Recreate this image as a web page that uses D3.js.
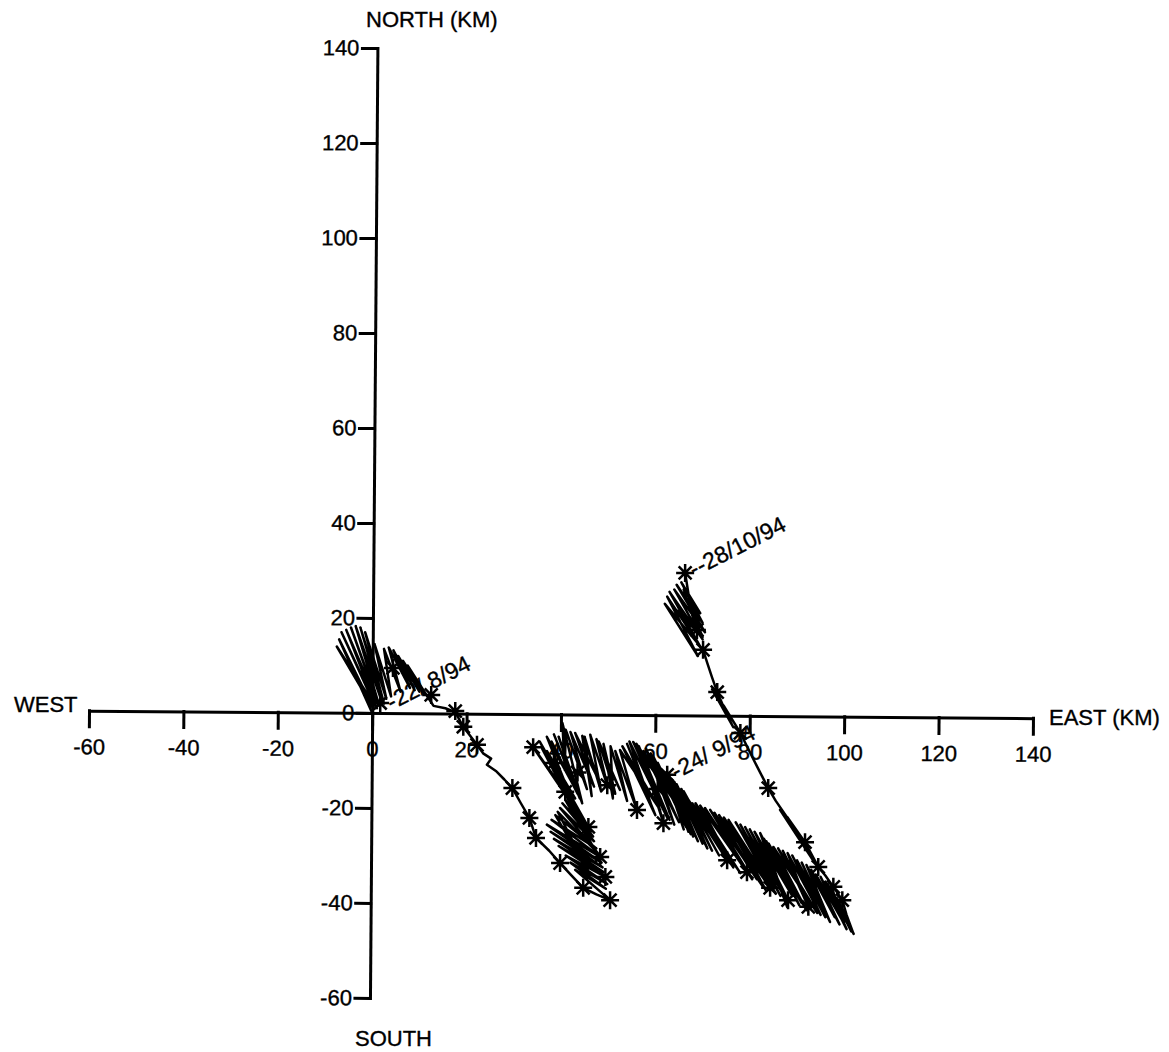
<!DOCTYPE html>
<html><head><meta charset="utf-8">
<script src="https://cdn.jsdelivr.net/npm/d3@7"></script>
<style>
body{margin:0;background:#fff}
text{font-family:"Liberation Sans",Arial,Helvetica,sans-serif}
</style>
</head><body>
<svg id="c" width="1169" height="1052"></svg>
<script>
// ---- axis ticks (km) ----
const axisTicks = [-60,-40,-20,0,20,40,60,80,100,120,140];

// ---- progressive vector track, [east km, north km] ----
// leg 1: start 22/8/94 at origin, tidal loops NW
const leg1 = [[0,0],[-7,15.5],[0.3,0.8],[-7.5,14],[0.6,1.5],[-6.5,17],[1,1],[-5.5,17.5],[1.2,2],[-4.5,18],[1.5,1.5],[-3.5,18.3],[2,2.5],[-2.5,18],[2.5,2],[-1.5,17],[3,3],[0.5,14.5],[4,3.5],[2.5,13.5],[6,4.5],[3.5,13.8],[8,5.3],[4.5,13.2],[9,4.8],[5.5,12],[10,4.5],[6.5,11],[11,4],[7.5,10],[12,3],[13,1.5],[15.5,1]];
// leg 2: drift south-east
const leg2 = [[17.6,0.2],[19.3,-2.9],[22.2,-6.7],[23.5,-8.5],[25.2,-9.6],[24.3,-10.9],[26.2,-12.2],[28,-14],[29.7,-15.8],[31.5,-19],[33.3,-22.1],[34.7,-26.3],[37.5,-29],[39.8,-31.6],[42.2,-34.2],[44.7,-36.8],[47.5,-38.2],[50.4,-39.4]];
// leg 3: middle cluster
const leg3 = [[43,-33],[49.5,-37],[42,-31.5],[49.8,-36],[41,-30],[49.4,-34.5],[39.5,-28],[49,-33.5],[38.5,-26.5],[48.8,-32.5],[37.8,-25],[48.6,-31.5],[37,-23.5],[48.3,-30.3],[38,-22.5],[47.5,-28.5],[38.8,-21.5],[46.2,-34.1],[39.3,-20.8],[47.8,-29.5],[39.8,-20],[47,-27],[40.3,-19],[46.8,-26],[40.9,-18.3],[48.3,-31],[41.2,-17.6],[46.3,-25],[41.5,-17],[45.8,-24],[39,-12],[44,-21],[37,-8],[43,-18],[36,-7.5],[41.5,-18],[34.1,-7.2],[40.9,-16.6],[35.5,-6],[42,-17.5],[37,-5],[42.5,-15],[38,-6],[43.5,-17],[38.5,-4.5],[44,-18],[39.5,-5],[44.5,-19],[40.3,-2.1],[40.8,-12],[41,-3.5],[45.5,-16],[42,-4],[47,-15.5],[43,-4.2],[48.3,-14.7],[44.5,-4.8],[46.5,-17.5],[45,-5],[48.5,-16.5],[46.2,-4.6],[49.8,-15.2],[47.5,-5.5],[52.5,-16.2],[48,-6],[51.5,-17],[49,-6.5],[51,-18],[50.5,-7],[54,-18.5],[51.5,-8],[56.1,-20.4]];
// leg 4: eastern cluster after 24/9/94
const leg4 = [[52.5,-7.8],[61,-20.4],[53,-7],[60,-21.5],[54,-6.5],[59,-19],[54.5,-6],[62.5,-22],[55.3,-6.1],[65.3,-20.4],[56,-6.5],[63,-22.5],[56.5,-7],[61.7,-23.2],[57.5,-8],[65,-23],[58,-7.5],[64,-23.5],[59,-8.5],[66.5,-24],[59.5,-9],[63,-21],[60.5,-10.5],[67.5,-25.5],[62,-12.5],[66,-24.5],[62.5,-13],[67,-25],[63,-13.5],[69,-27],[63.5,-14],[68,-26],[64,-14.5],[70,-27.5],[64.5,-15],[71,-28.5],[65.5,-16],[72,-29],[66,-16.5],[73.5,-30],[66.5,-17.5],[75.2,-31],[67.8,-19],[78,-33.7],[68.5,-19],[76.5,-32.5],[69.5,-19.5],[79.4,-33.5],[70.5,-20],[80.5,-35],[71.6,-20.4],[82.8,-36.6],[72.5,-21],[81.5,-35],[73.5,-21.5],[84.3,-36.8],[74.5,-22],[83.5,-37.5],[75.5,-22.5],[85.5,-38],[77,-23],[85,-36.5],[78,-23.5],[86.5,-38.5],[79,-24],[87.5,-39],[80,-24.5],[88.1,-39.4],[81,-25],[89,-38.5],[82.2,-25.3],[87.9,-40.8],[83,-26.5],[91,-40],[83.5,-27],[90.5,-40.5],[84,-27.5],[92,-41.5],[85,-28.2],[94.3,-42.1],[86,-28.5],[93,-41],[87,-29],[92.4,-40.8],[88,-29.5],[95,-42.5],[89,-30],[96,-43],[90,-31],[95.5,-41],[91,-31.5],[97,-44],[92,-32],[98,-43],[93,-33],[99,-44.5],[94,-34],[99.5,-43.5],[95,-34.5],[100.5,-45.5],[96,-35.5],[100,-44],[96.5,-36],[101,-45],[97,-37],[101.5,-46],[97.5,-37.5],[102,-46.5],[98.5,-39],[101.9,-46.3]];
// leg 5: return north-west to 28/10/94
const leg5 = [[100.5,-42.5],[99.6,-39.4],[97.7,-36.6],[96,-34.2],[94.5,-32.4],[93,-29.6],[91.7,-27.2],[88,-22],[86.4,-20.4],[93.4,-31],[90,-25],[85.5,-18.5],[83.9,-15.8],[81.5,-11.2],[79.5,-7.2],[78,-4.2],[74.5,1.5],[72,5],[76.5,-3],[75,0],[73.1,4.4],[72,7.5],[71,10.5],[70.1,13.3],[62,23],[69,12],[62.5,24.5],[69.5,14],[63,25.5],[70,15.5],[64,26],[70.5,17],[64.5,27],[70,19],[65.5,27.5],[69.5,21],[66,26],[68.5,18.5],[64,22],[70,16],[67.5,22],[66.3,29.5]];

// ---- daily fixes (asterisks) ----
const dailyFixes = [[1.7,2.1],[4.4,9.5],[12.5,3.8],[17.6,0.4],[19.3,-2.9],[22.2,-6.7],[29.7,-15.8],[33.3,-22.1],[34.7,-26.3],[39.8,-31.6],[44.7,-36.8],[50.4,-39.4],[49.4,-34.5],[48.3,-30.3],[45.8,-24],[40.9,-16.6],[34.1,-7.2],[38.5,-10.5],[43.5,-12.5],[49.8,-15.2],[56.1,-20.4],[61.7,-23.2],[62.5,-13],[60.5,-16],[75.2,-31],[79.4,-33.5],[84.3,-36.8],[88.1,-39.4],[92.4,-40.8],[99.6,-39.4],[97.7,-36.6],[94.5,-32.4],[91.7,-27.2],[83.9,-15.8],[78,-4.2],[73.1,4.4],[70.1,13.3],[68.8,17.5],[66.3,29.5]];

// ---- date labels ----
const dateTexts = ["-22/ 8/94","-24/ 9/94","--28/10/94"];
const datePoints = [[2.2,1.5],[62.5,-13],[66.3,29.5]];

const FONT = '"Liberation Sans", Arial, Helvetica, sans-serif';
const svg = d3.select("#c");
const x = d3.scaleLinear().domain([-60,140]).range([89,1033]);
const y = d3.scaleLinear().domain([-60,140]).range([998,48]);
const ox = x(0), oy = y(0);

// axes (the scanned original is slightly rotated)
const axes = svg.append("g").attr("transform",`rotate(0.45,${ox},${oy})`);
const xa = axes.append("g").attr("transform",`translate(0,${oy})`)
  .call(d3.axisBottom(x).tickValues(axisTicks).tickSize(16).tickSizeOuter(0).tickPadding(12).tickFormat(d=>String(d)));
const ya = axes.append("g").attr("transform",`translate(${ox},0)`)
  .call(d3.axisLeft(y).tickValues(axisTicks).tickSize(15).tickSizeOuter(0).tickPadding(3).tickFormat(d=>String(d)));
[xa,ya].forEach(g=>{
  g.attr("font-size",22).attr("font-family",FONT);
  g.selectAll("path,line").attr("stroke","#000").attr("stroke-width",3).attr("stroke-linecap","square");
  g.selectAll("text").attr("fill","#000").attr("stroke","#000").attr("stroke-width",0.35);
});

// axis titles
const titles = [["NORTH (KM)",366,27],["SOUTH",355,1046],["WEST",14,712],["EAST (KM)",1049,725]];
svg.selectAll("text.title").data(titles).join("text").attr("class","title")
  .attr("x",d=>d[1]).attr("y",d=>d[2]).attr("font-size",22).attr("fill","#000")
  .attr("stroke","#000").attr("stroke-width",0.35).text(d=>d[0]);

// track
const track = leg1.concat(leg2, leg3, leg4, leg5);
const line = d3.line().x(d=>x(d[0])).y(d=>y(d[1]));
svg.append("path").datum(track).attr("d",line).attr("fill","none")
  .attr("stroke","#000").attr("stroke-width",2.5).attr("stroke-linejoin","round").attr("stroke-linecap","round");

// asterisks
const r = 9;
const star = `M${-r},0H${r}M0,${-r}V${r}M${-r*0.72},${-r*0.72}L${r*0.72},${r*0.72}M${-r*0.72},${r*0.72}L${r*0.72},${-r*0.72}`;
svg.selectAll("path.fix").data(dailyFixes).join("path").attr("class","fix")
  .attr("transform",d=>`translate(${x(d[0])},${y(d[1])})`)
  .attr("d",star).attr("stroke","#000").attr("stroke-width",2.5).attr("fill","none");

// date labels
svg.selectAll("g.date").data(datePoints).join("g").attr("class","date")
  .attr("transform",d=>`translate(${x(d[0])},${y(d[1])}) rotate(-27)`)
  .append("text").attr("x",6).attr("y",8).attr("font-size",23).attr("fill","#000")
  .attr("stroke","#000").attr("stroke-width",0.35)
  .text((d,i)=>dateTexts[i]);
</script>
</body></html>
